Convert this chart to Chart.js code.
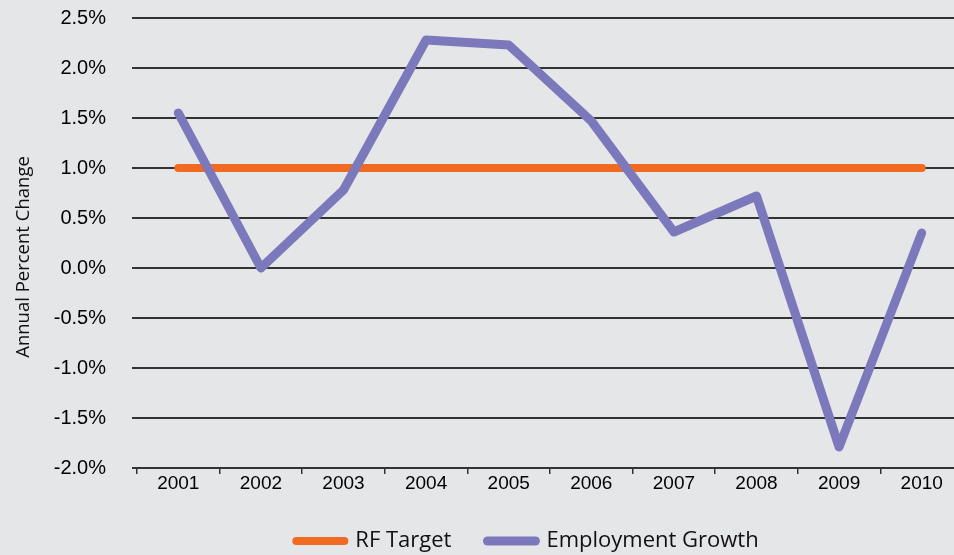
<!DOCTYPE html>
<html>
<head>
<meta charset="utf-8">
<script src="https://cdn.jsdelivr.net/npm/chart.js@4"></script>
<style>
  html, body { margin: 0; padding: 0; background: #e5e6e8; overflow: hidden; }
  #wrap { width: 954px; height: 555px; overflow: hidden; position: relative; }
  #chart { position: absolute; left: 0; top: 0; }
</style>
</head>
<body>
<div id="wrap"><canvas id="chart" width="1055" height="562"></canvas></div>
<script>
const years = ["2001", "2002", "2003", "2004", "2005", "2006", "2007", "2008", "2009", "2010"];
const rfTarget = [1.0, 1.0, 1.0, 1.0, 1.0, 1.0, 1.0, 1.0, 1.0, 1.0];
const employmentGrowth = [1.55, 0.0, 0.78, 2.28, 2.23, 1.47, 0.36, 0.72, -1.79, 0.35];
const yMin = -2.0, yMax = 2.5, yStep = 0.5;

const bg = "#e5e6e8";
const gridColor = "#333333";

// grey background behind everything
const background = {
    id: "background",
    beforeDraw(chart) {
        const ctx = chart.ctx;
        ctx.save();
        ctx.fillStyle = bg;
        ctx.fillRect(0, 0, chart.width, chart.height);
        ctx.restore();
    }
};

// y title sits a bit below the middle of the axis, so draw it by hand
const yTitle = {
    id: "yTitle",
    afterDraw(chart) {
        const ctx = chart.ctx;
        ctx.save();
        ctx.translate(24, 257);
        ctx.rotate(-Math.PI / 2);
        ctx.font = "18.5px 'Open Sans'";
        ctx.fillStyle = "#111";
        ctx.textAlign = "center";
        ctx.textBaseline = "middle";
        ctx.fillText("Annual Percent Change", 0, 0);
        ctx.restore();
    }
};

Chart.defaults.font.family = "'Liberation Sans', Arial, sans-serif";
Chart.defaults.color = "#000";

new Chart(document.getElementById("chart"), {
    type: "line",
    data: {
        labels: years,
        datasets: [{
            label: "RF Target",
            data: rfTarget,
            borderColor: "#f26a22",
            backgroundColor: "#f26a22",
            borderWidth: 8,
            borderCapStyle: "round",
            pointRadius: 0,
            tension: 0,
            order: 2
        }, {
            label: "Employment Growth",
            data: employmentGrowth,
            borderColor: "#7b79bb",
            backgroundColor: "#7b79bb",
            borderWidth: 9,
            borderCapStyle: "round",
            borderJoinStyle: "round",
            pointRadius: 0,
            tension: 0,
            order: 1
        }]
    },
    options: {
        responsive: false,
        animation: false,
        layout: { padding: { top: 18, left: 0, right: 0, bottom: 0 } },
        plugins: {
            tooltip: { enabled: false },
            legend: {
                position: "bottom",
                labels: {
                    usePointStyle: true,
                    pointStyle: "line",
                    pointStyleWidth: 48,
                    padding: 36,
                    color: "#111",
                    font: { family: "'Open Sans'", size: 22 },
                    sort: (a, b) => a.datasetIndex - b.datasetIndex,
                    generateLabels: chart => Chart.defaults.plugins.legend.labels.generateLabels(chart).map(item => {
                        const ds = chart.data.datasets[item.datasetIndex];
                        return { ...item, lineCap: "round", lineWidth: ds.borderWidth, strokeStyle: ds.borderColor };
                    })
                }
            }
        },
        scales: {
            x: {
                offset: true,
                grid: {
                    display: true,
                    offset: true,
                    drawOnChartArea: false,
                    drawTicks: true,
                    tickLength: 6,
                    color: gridColor,
                    lineWidth: 1.5
                },
                border: { display: false },
                ticks: { font: { size: 19 }, padding: -2, maxRotation: 0 },
                afterFit: s => { s.height = 26; }
            },
            y: {
                min: yMin,
                max: yMax,
                grid: {
                    color: gridColor,
                    lineWidth: 2,
                    drawTicks: true,
                    tickLength: 5
                },
                border: { display: false },
                ticks: {
                    stepSize: yStep,
                    padding: 26,
                    font: { size: 20 },
                    callback: v => v.toFixed(1) + "%"
                },
                afterFit: s => {
                    s.width = 137;
                    // big tick padding should not push the plot down
                    s.paddingTop = 0;
                    s.paddingBottom = 0;
                }
            },
            yRight: {
                type: "linear",
                position: "right",
                display: true,
                grid: { display: false },
                border: { display: false },
                ticks: { display: false },
                afterFit: s => { s.width = 92; }
            }
        }
    },
    plugins: [background, yTitle]
});
</script>
</body>
</html>
